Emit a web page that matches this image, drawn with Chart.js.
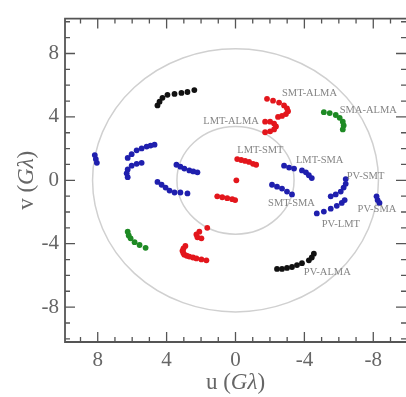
<!DOCTYPE html>
<html>
<head>
<meta charset="utf-8">
<script src="https://cdn.jsdelivr.net/npm/chart.js@4.4.0/dist/chart.umd.min.js"></script>
<style>
  html, body { margin: 0; padding: 0; background: #fff; overflow: hidden; width: 406px; height: 397px; }
  #wrap { width: 406px; height: 397px; overflow: hidden; position: relative; }
  #uvChart { position: absolute; left: 0; top: 0; }
</style>
</head>
<body>
<div id="wrap"><canvas id="uvChart" width="410" height="397"></canvas></div>
<script>
// uv tracks in G-lambda, [u, v], each baseline plus its conjugate
const pvAlma = [[-2.41, -5.59], [-2.70, -5.59], [-2.99, -5.53], [-3.28, -5.47], [-3.57, -5.35], [-3.86, -5.23], [-4.26, -5.05], [-4.43, -4.87], [-4.55, -4.63]];
const pvAlmaConj = [[4.53, 4.72], [4.41, 4.96], [4.24, 5.20], [3.95, 5.39], [3.54, 5.45], [3.14, 5.51], [2.79, 5.57], [2.39, 5.69]];

const smtAlma = [[-1.83, 5.14], [-2.18, 5.02], [-2.53, 4.90], [-2.82, 4.72], [-2.99, 4.54], [-3.05, 4.36], [-2.93, 4.18], [-2.70, 4.06], [-2.47, 4.00]];
const smtAlmaConj = [[2.91, -4.14], [3.02, -4.30], [3.08, -4.45], [3.03, -4.58], [2.97, -4.69], [2.83, -4.76], [2.68, -4.81], [2.47, -4.87], [2.27, -4.93], [1.98, -4.99], [1.69, -5.05]];

const lmtAlma = [[-1.72, 3.70], [-2.01, 3.70], [-2.24, 3.58], [-2.35, 3.40], [-2.24, 3.21], [-2.01, 3.09], [-1.72, 3.03]];
const lmtAlmaConj = [[1.64, -3.00], [2.10, -3.24], [2.27, -3.42], [2.21, -3.60], [1.98, -3.66]];

const lmtSmt = [[-0.10, 1.34], [-0.33, 1.28], [-0.56, 1.22], [-0.79, 1.16], [-1.02, 1.04], [-1.20, 0.98]];
const lmtSmtConj = [[1.06, -1.01], [0.77, -1.07], [0.48, -1.13], [0.19, -1.19], [0.02, -1.25]];
const shortBaseline = [[-0.05, 0.0]];

const smaAlma = [[-5.13, 4.30], [-5.47, 4.24], [-5.82, 4.12], [-6.05, 3.94], [-6.23, 3.70], [-6.28, 3.46], [-6.23, 3.21]];
const smaAlmaConj = [[6.26, -3.24], [6.20, -3.48], [6.09, -3.66], [5.86, -3.90], [5.57, -4.08], [5.22, -4.26]];

const pvSma = [[-8.19, -1.01], [-8.25, -1.25], [-8.36, -1.43]];
const pvSmaConj = [[8.17, 1.59], [8.11, 1.34], [8.05, 1.10]];

const pvLmt = [[-4.72, -2.09], [-5.13, -1.97], [-5.53, -1.79], [-5.88, -1.61], [-6.17, -1.43], [-6.34, -1.25]];
const pvLmtConj = [[6.26, 1.41], [6.03, 1.65], [5.74, 1.89], [5.45, 2.01], [5.16, 2.13], [4.93, 2.19], [4.70, 2.25]];

const pvSmt = [[-5.53, -1.01], [-5.82, -0.89], [-6.11, -0.71], [-6.28, -0.46], [-6.40, -0.22], [-6.40, 0.08]];
const pvSmtConj = [[6.26, 0.20], [6.32, 0.44], [6.26, 0.68], [6.03, 0.92], [5.74, 1.04], [5.45, 1.10]];

const smtSma = [[-2.12, -0.28], [-2.41, -0.40], [-2.70, -0.52], [-2.99, -0.71], [-3.28, -0.89]];
const smtSmaConj = [[3.43, 0.98], [3.20, 0.86], [2.97, 0.74], [2.68, 0.62], [2.45, 0.56], [2.21, 0.50]];

const lmtSma = [[-2.82, 0.92], [-3.11, 0.80], [-3.40, 0.74], [-3.86, 0.62], [-4.09, 0.50], [-4.26, 0.32], [-4.43, 0.14]];
const lmtSmaConj = [[4.53, -0.10], [4.29, -0.28], [4.06, -0.46], [3.83, -0.65], [3.54, -0.77], [3.20, -0.77], [2.79, -0.83]];

const labelTexts = ['SMT-ALMA', 'SMA-ALMA', 'LMT-ALMA', 'LMT-SMT', 'LMT-SMA', 'PV-SMT', 'SMT-SMA', 'PV-SMA', 'PV-LMT', 'PV-ALMA'];
const labelU = [-2.70, -6.05, 1.87, -0.10, -3.51, -6.46, -1.89, -7.09, -5.01, -3.97];
const labelV = [5.47, 4.42, 3.70, 1.89, 1.28, 0.26, -1.43, -1.85, -2.76, -5.83];

const ringRadii = [3.4, 8.3];
const tickValues = [-8, -4, 0, 4, 8];

const RED = '#e3161c';
const BLUE = '#1f1fae';
const BLACK = '#111111';
const GREEN = '#1e8a24';

const tracks = [
    [pvAlma, BLACK], [pvAlmaConj, BLACK],
    [smtAlma, RED], [smtAlmaConj, RED],
    [lmtAlma, RED], [lmtAlmaConj, RED],
    [lmtSmt, RED], [lmtSmtConj, RED], [shortBaseline, RED],
    [smaAlma, GREEN], [smaAlmaConj, GREEN],
    [pvSma, BLUE], [pvSmaConj, BLUE],
    [pvLmt, BLUE], [pvLmtConj, BLUE],
    [pvSmt, BLUE], [pvSmtConj, BLUE],
    [smtSma, BLUE], [smtSmaConj, BLUE],
    [lmtSma, BLUE], [lmtSmaConj, BLUE]
];

const SERIF = '"Liberation Serif", "DejaVu Serif", serif';

const ringPlugin = {
    id: 'rings',
    beforeDatasetsDraw(chart) {
        const {ctx, chartArea: a, scales: {x, y}} = chart;
        const cx = x.getPixelForValue(0);
        const cy = y.getPixelForValue(0);
        ctx.save();
        ctx.beginPath();
        ctx.rect(a.left, a.top, a.right - a.left, a.bottom - a.top);
        ctx.clip();
        ctx.strokeStyle = '#d0d0d0';
        ctx.lineWidth = 1.5;
        ringRadii.forEach(r => {
            const rx = Math.abs(x.getPixelForValue(r) - cx);
            const ry = Math.abs(y.getPixelForValue(r) - cy);
            ctx.beginPath();
            ctx.ellipse(cx, cy, rx, ry, 0, 0, Math.PI * 2);
            ctx.stroke();
        });
        ctx.restore();
    }
};

const labelPlugin = {
    id: 'baselineLabels',
    afterDatasetsDraw(chart) {
        const {ctx, scales: {x, y}} = chart;
        ctx.save();
        ctx.font = '10.5px ' + SERIF;
        ctx.fillStyle = '#858585';
        ctx.textAlign = 'left';
        ctx.textBaseline = 'middle';
        labelTexts.forEach((t, i) => {
            ctx.fillText(t, x.getPixelForValue(labelU[i]), y.getPixelForValue(labelV[i]));
        });
        ctx.restore();
    }
};

// draw text made of roman / italic pieces, centred on (cx, cy)
function drawMixed(ctx, parts, cx, cy) {
    let total = 0;
    parts.forEach(p => {
        ctx.font = (p.italic ? 'italic ' : '') + '23px ' + SERIF;
        p.w = ctx.measureText(p.text).width;
        total += p.w;
    });
    let px = cx - total / 2;
    parts.forEach(p => {
        ctx.font = (p.italic ? 'italic ' : '') + '23px ' + SERIF;
        ctx.fillText(p.text, px, cy);
        px += p.w;
    });
}

const framePlugin = {
    id: 'frame',
    afterDraw(chart) {
        const {ctx, chartArea: a, scales: {x, y}} = chart;
        ctx.save();
        ctx.strokeStyle = '#555';
        ctx.lineWidth = 1.8;
        // the right edge of the box sits just outside the picture
        ctx.beginPath();
        ctx.moveTo(a.right + 2, a.top);
        ctx.lineTo(a.left, a.top);
        ctx.lineTo(a.left, a.bottom);
        ctx.lineTo(a.right + 2, a.bottom);
        ctx.stroke();
        ctx.lineWidth = 1.3;
        for (let t = -10; t <= 10; t++) {
            const len = t % 4 === 0 ? 10 : 5;
            ctx.beginPath();
            if (t > x.min && t < x.max) {
                const px = x.getPixelForValue(t);
                ctx.moveTo(px, a.bottom); ctx.lineTo(px, a.bottom - len);
                ctx.moveTo(px, a.top); ctx.lineTo(px, a.top + len);
            }
            if (t > y.min && t < y.max) {
                const py = y.getPixelForValue(t);
                ctx.moveTo(a.left, py); ctx.lineTo(a.left + len, py);
                ctx.moveTo(a.right, py); ctx.lineTo(a.right - len, py);
            }
            ctx.stroke();
        }

        ctx.fillStyle = '#666';
        ctx.textAlign = 'left';
        ctx.textBaseline = 'middle';
        drawMixed(ctx, [{text: 'u ('}, {text: 'Gλ', italic: true}, {text: ')'}], x.getPixelForValue(0), 383);
        ctx.save();
        ctx.translate(27, y.getPixelForValue(0));
        ctx.rotate(-Math.PI / 2);
        drawMixed(ctx, [{text: 'v ('}, {text: 'Gλ', italic: true}, {text: ')'}], 0, 0);
        ctx.restore();
        ctx.restore();
    }
};

const ctx = document.getElementById('uvChart').getContext('2d');

new Chart(ctx, {
    type: 'scatter',
    data: {
        datasets: tracks.map(([pts, color]) => ({
            data: pts.map(p => ({x: p[0], y: p[1]})),
            pointRadius: 2.9,
            pointBorderWidth: 0,
            pointBackgroundColor: color,
            showLine: false
        }))
    },
    options: {
        responsive: false,
        animation: false,
        devicePixelRatio: 1,
        layout: {padding: {top: 4, right: 2.5, left: 0, bottom: 0}},
        plugins: {
            legend: {display: false},
            tooltip: {enabled: false}
        },
        scales: {
            x: {
                type: 'linear',
                reverse: true,
                min: -9.9,
                max: 9.9,
                afterBuildTicks: s => { s.ticks = tickValues.map(v => ({value: v})); },
                afterFit: s => { s.height = 55; },
                grid: {display: false, drawTicks: false},
                border: {display: false},
                ticks: {
                    font: {family: SERIF, size: 21},
                    color: '#666',
                    padding: 6,
                    maxRotation: 0,
                    autoSkip: false,
                    callback: v => String(v)
                }
            },
            y: {
                type: 'linear',
                min: -10.2,
                max: 10.2,
                afterBuildTicks: s => { s.ticks = tickValues.map(v => ({value: v})); },
                afterFit: s => { s.width = 65; },
                grid: {display: false, drawTicks: false},
                border: {display: false},
                ticks: {
                    font: {family: SERIF, size: 21},
                    color: '#666',
                    padding: 6,
                    autoSkip: false,
                    callback: v => String(v)
                }
            }
        }
    },
    plugins: [ringPlugin, labelPlugin, framePlugin]
});
</script>
</body>
</html>
